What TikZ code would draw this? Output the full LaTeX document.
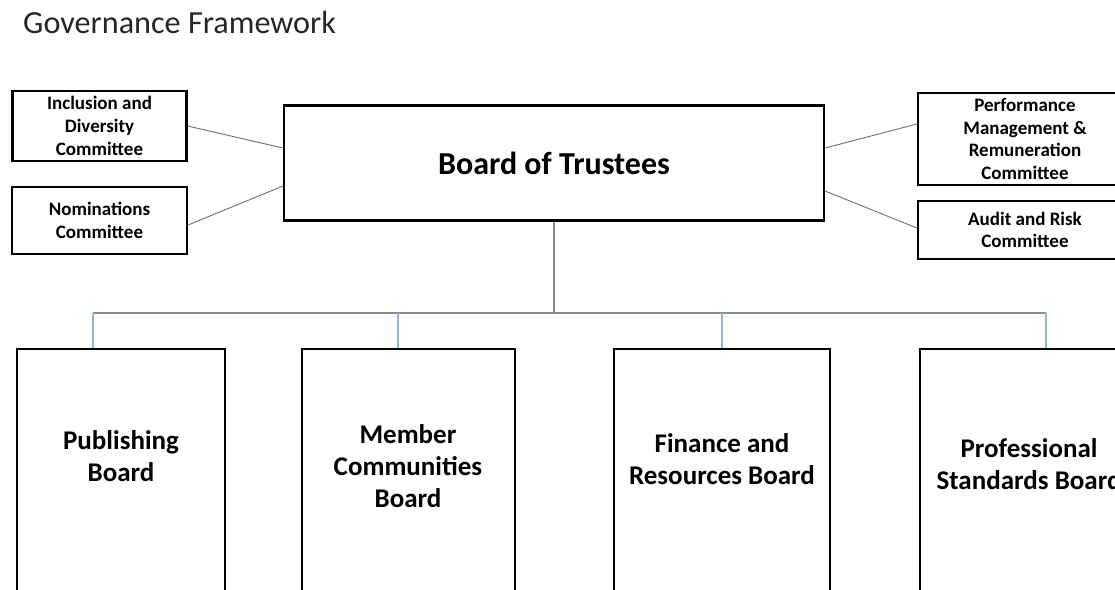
\documentclass[tikz,border=0pt]{standalone}
\usepackage{fontspec}
\setmainfont{Carlito}
\usetikzlibrary{positioning}

\definecolor{linkgray}{HTML}{6E6E6E}
\definecolor{busgray}{HTML}{8C8C8C}
\definecolor{dropblue}{HTML}{8EB4E3}

\begin{document}
\begin{tikzpicture}
		[x=1pt, y=-1pt,
		box/.style={rectangle, draw=black, line width=2.2pt, align=center, inner sep=2pt},
		committee/.style={box, font=\bfseries\fontsize{19}{22.7}\selectfont},
		board/.style={box, anchor=north, minimum height=300pt},
		boardtext/.style={align=center, inner sep=0pt, font=\bfseries\fontsize{27}{32}\selectfont},
		link/.style={draw=linkgray, line width=0.9pt},
		bus/.style={draw=busgray, line width=1.2pt},
		drop/.style={draw=dropblue, line width=1.2pt}]
		\useasboundingbox (0,0) rectangle (1115,589);
		\clip (0,0) rectangle (1115,589);

		\node[anchor=base west, inner sep=0pt, text=black!85, font=\fontsize{32.2}{38}\selectfont] (title) at (23,33) {Governance Framework};

		\node[box, minimum width=540pt, minimum height=115pt, font=\bfseries\fontsize{32}{38}\selectfont] (trust) at (554,163) {Board of Trustees};
		\node[committee, minimum width=174pt, minimum height=70pt] (incl) at (99.5,126) {Inclusion and\\Diversity\\Committee};
		\node[committee, minimum width=175pt, minimum height=67pt] (nom) at (99.5,220.5) {Nominations\\Committee};
		\node[committee, minimum width=214pt, minimum height=92pt] (perf) at (1025,139) {Performance\\Management \&\\Remuneration\\Committee};
		\node[committee, minimum width=214pt, minimum height=58pt] (audit) at (1025,230) {Audit and Risk\\Committee};

		\draw[link] (incl.east) -- ([yshift=15pt]trust.west);
		\draw[link] ([yshift=-4.5pt]nom.east) -- ([yshift=-23pt]trust.west);
		\draw[link] ([yshift=15pt]trust.east) -- ([yshift=15pt]perf.west);
		\draw[link] ([yshift=-28pt]trust.east) -- ([yshift=2pt]audit.west);

		\node[board, minimum width=208pt] (pub) at (121,348) {};
		\node[board, minimum width=213pt] (mem) at (408.5,348) {};
		\node[board, minimum width=216pt] (fin) at (722,348) {};
		\node[board, minimum width=214pt] (prof) at (1027,348) {};

		\node[boardtext] (pubtext) at (121,456) {Publishing\\Board};
		\node[boardtext] (memtext) at (408,466) {Member\\Communities\\Board};
		\node[boardtext] (fintext) at (722,459) {Finance and\\Resources Board};
		\node[boardtext] (proftext) at (1029,464) {Professional\\Standards Board};

		\coordinate (pubdrop) at (93,313);
		\coordinate (memdrop) at (398,313);
		\coordinate (findrop) at (722,313);
		\coordinate (profdrop) at (1046,313);

		\draw[bus] (trust.south) -- (trust.south |- pubdrop);
		\draw[bus] (pubdrop) -- (profdrop);
		\foreach \b in {pub,mem,fin,prof}
			\draw[drop] (\b drop) -- (\b drop |- \b.north);
	\end{tikzpicture}
\end{document}
